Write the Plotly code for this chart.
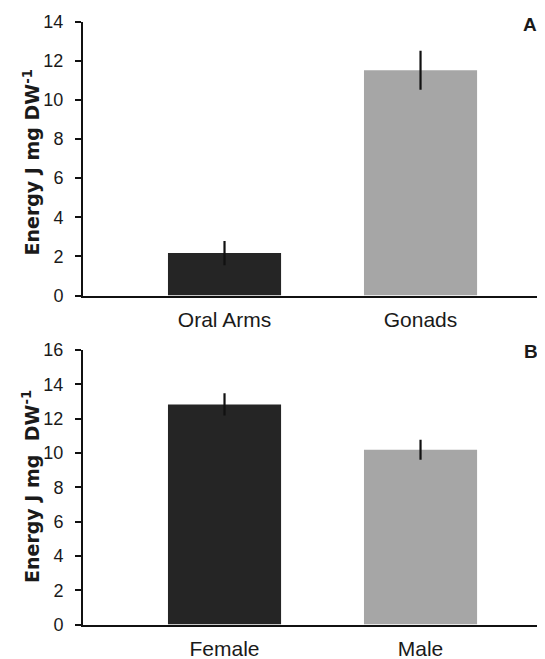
import plotly.graph_objects as go

cats_a = ["Oral Arms", "Gonads"]
vals_a = [2.17, 11.52]
err_a = [0.62, 1.0]

cats_b = ["Female", "Male"]
vals_b = [12.83, 10.19]
err_b = [0.65, 0.58]

colors = ["#252525", "#a6a6a6"]

# page shows the figure shifted by the 8px body margin
OFF = 8
W, H = 545 - OFF, 659 - OFF


def fx(s):
    return (s - OFF) / W


def fy(s):
    return 1 - (s - OFF) / H


fig = go.Figure()
fig.add_trace(go.Bar(x=cats_a, y=vals_a, marker=dict(color=colors, line=dict(width=0)),
                     width=0.577,
                     error_y=dict(type="data", array=err_a, width=0, thickness=2.2, color="#111111"),
                     xaxis="x", yaxis="y", showlegend=False))
fig.add_trace(go.Bar(x=cats_b, y=vals_b, marker=dict(color=colors, line=dict(width=0)),
                     width=0.577,
                     error_y=dict(type="data", array=err_b, width=0, thickness=2.2, color="#111111"),
                     xaxis="x2", yaxis="y2", showlegend=False))

tick_font = dict(family="Liberation Sans, Arial", size=18, color="#1a1a1a")
cat_font = dict(family="Liberation Sans, Arial", size=21, color="#1a1a1a")
axis_common = dict(showline=True, linecolor="#111111", linewidth=2, showgrid=False,
                   zeroline=False, automargin=False)
xr = [-0.722, 1.635]

fig.update_layout(
    template="none",
    width=W, height=H, autosize=False,
    margin=dict(l=0, r=0, t=0, b=0, pad=0),
    paper_bgcolor="white", plot_bgcolor="white",
    font=tick_font,
    xaxis=dict(domain=[fx(83), 1], anchor="y", range=xr, ticks="", ticklabelstandoff=4,
               tickfont=cat_font, **axis_common),
    yaxis=dict(domain=[fy(295.5), fy(21.7)], anchor="x", range=[0, 14], dtick=2,
               ticks="outside", ticklen=6, tickwidth=2, tickcolor="#111111",
               ticklabelstandoff=8, tickfont=tick_font, **axis_common),
    xaxis2=dict(domain=[fx(83), 1], anchor="y2", range=xr, ticks="", ticklabelstandoff=4,
                tickfont=cat_font, **axis_common),
    yaxis2=dict(domain=[fy(624.5), fy(350)], anchor="x2", range=[0, 16], dtick=2,
                ticks="outside", ticklen=6, tickwidth=2, tickcolor="#111111",
                ticklabelstandoff=8, tickfont=tick_font, **axis_common),
)

title_font = dict(family="DejaVu Sans", size=19, color="#1a1a1a")
fig.add_annotation(text="<b>Energy J mg DW<sup>-1</sup></b>", textangle=-90,
                   xref="paper", yref="paper", x=fx(31), y=fy(162.5),
                   showarrow=False, font=title_font, xanchor="center", yanchor="middle")
fig.add_annotation(text="<b>Energy J mg  DW<sup>-1</sup></b>", textangle=-90,
                   xref="paper", yref="paper", x=fx(31), y=fy(487),
                   showarrow=False, font=title_font, xanchor="center", yanchor="middle")
label_font = dict(family="Liberation Sans, Arial", size=19, color="#1a1a1a")
fig.add_annotation(text="<b>A</b>", xref="paper", yref="paper", x=fx(530), y=fy(24),
                   showarrow=False, font=label_font, xanchor="center", yanchor="middle")
fig.add_annotation(text="<b>B</b>", xref="paper", yref="paper", x=fx(531), y=fy(351),
                   showarrow=False, font=label_font, xanchor="center", yanchor="middle")

fig.write_html("out.html")
